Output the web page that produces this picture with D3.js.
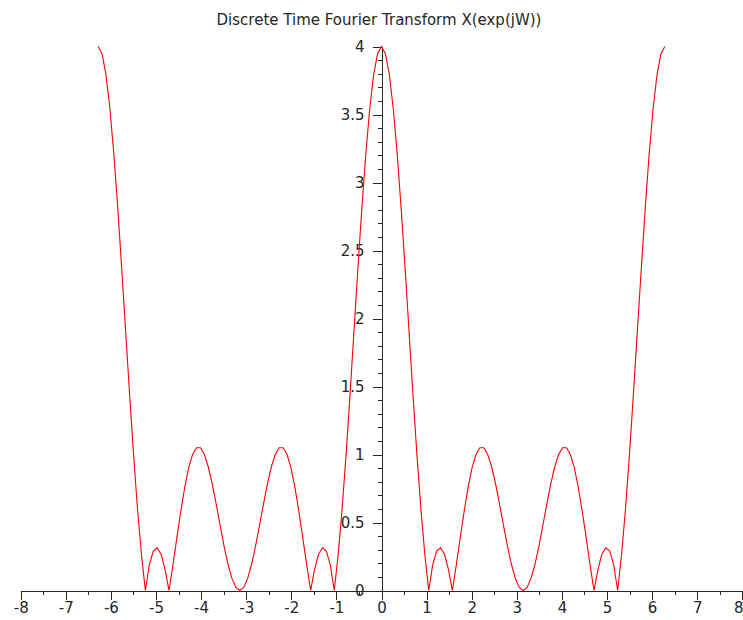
<!DOCTYPE html>
<html>
<head>
<meta charset="utf-8">
<script src="https://cdn.jsdelivr.net/npm/d3@7"></script>
<style>
  html, body { margin: 0; padding: 0; background: #ffffff; }
  svg { display: block; }
</style>
</head>
<body>
<svg id="chart" width="743" height="620"></svg>
<script>
// ---- data ----
const titleText = "Discrete Time Fourier Transform X(exp(jW))";

const omega = [
  -6.283, -6.196, -6.109, -6.021, -5.934, -5.847, -5.760, -5.672, -5.585, -5.498,
  -5.411, -5.323, -5.236, -5.149, -5.061, -4.974, -4.887, -4.800, -4.712, -4.625,
  -4.538, -4.451, -4.363, -4.276, -4.189, -4.102, -4.014, -3.927, -3.840, -3.752,
  -3.665, -3.578, -3.491, -3.403, -3.316, -3.229, -3.142, -3.054, -2.967, -2.880,
  -2.793, -2.705, -2.618, -2.531, -2.443, -2.356, -2.269, -2.182, -2.094, -2.007,
  -1.920, -1.833, -1.745, -1.658, -1.571, -1.484, -1.396, -1.309, -1.222, -1.134,
  -1.047, -0.960, -0.873, -0.785, -0.698, -0.611, -0.524, -0.436, -0.349, -0.262,
  -0.175, -0.087,
  0,
  0.087, 0.175, 0.262, 0.349, 0.436, 0.524, 0.611, 0.698, 0.785, 0.873,
  0.960, 1.047, 1.134, 1.222, 1.309, 1.396, 1.484, 1.571, 1.658, 1.745,
  1.833, 1.920, 2.007, 2.094, 2.182, 2.269, 2.356, 2.443, 2.531, 2.618,
  2.705, 2.793, 2.880, 2.967, 3.054, 3.142, 3.229, 3.316, 3.403, 3.491,
  3.578, 3.665, 3.752, 3.840, 3.927, 4.014, 4.102, 4.189, 4.276, 4.363,
  4.451, 4.538, 4.625, 4.712, 4.800, 4.887, 4.974, 5.061, 5.149, 5.236,
  5.323, 5.411, 5.498, 5.585, 5.672, 5.760, 5.847, 5.934, 6.021, 6.109,
  6.196, 6.283
];

const magnitude = [
  // -2pi .. -pi
  4, 3.947, 3.791, 3.539, 3.206, 2.808, 2.366, 1.902, 1.440, 1.000,
  0.603, 0.266, 0, 0.186, 0.290, 0.314, 0.266, 0.156, 0, 0.187,
  0.387, 0.582, 0.758, 0.901, 1.000, 1.050, 1.050, 1.000, 0.908, 0.782,
  0.634, 0.478, 0.326, 0.193, 0.089, 0.023, 0,
  // -pi .. 0
  0.023, 0.089, 0.193, 0.326, 0.478, 0.634, 0.782, 0.908, 1.000, 1.050,
  1.050, 1.000, 0.901, 0.758, 0.582, 0.387, 0.187, 0, 0.156, 0.266,
  0.314, 0.290, 0.186, 0, 0.266, 0.603, 1.000, 1.440, 1.902, 2.366,
  2.808, 3.206, 3.539, 3.791, 3.947, 4,
  // 0 .. pi
  3.947, 3.791, 3.539, 3.206, 2.808, 2.366, 1.902, 1.440, 1.000,
  0.603, 0.266, 0, 0.186, 0.290, 0.314, 0.266, 0.156, 0, 0.187,
  0.387, 0.582, 0.758, 0.901, 1.000, 1.050, 1.050, 1.000, 0.908, 0.782,
  0.634, 0.478, 0.326, 0.193, 0.089, 0.023, 0,
  // pi .. 2pi
  0.023, 0.089, 0.193, 0.326, 0.478, 0.634, 0.782, 0.908, 1.000, 1.050,
  1.050, 1.000, 0.901, 0.758, 0.582, 0.387, 0.187, 0, 0.156, 0.266,
  0.314, 0.290, 0.186, 0, 0.266, 0.603, 1.000, 1.440, 1.902, 2.366,
  2.808, 3.206, 3.539, 3.791, 3.947, 4
];

const xTickValues = [-8, -7, -6, -5, -4, -3, -2, -1, 0, 1, 2, 3, 4, 5, 6, 7, 8];
const xTickLabels = ["-8", "-7", "-6", "-5", "-4", "-3", "-2", "-1", "0", "1", "2", "3", "4", "5", "6", "7", "8"];
const yTickValues = [0, 0.5, 1, 1.5, 2, 2.5, 3, 3.5, 4];
const yTickLabels = ["0", "0.5", "1", "1.5", "2", "2.5", "3", "3.5", "4"];
const xDomain = [-8, 8];
const yDomain = [0, 4];

// ---- drawing ----
const svg = d3.select("#chart");
const x = d3.scaleLinear().domain(xDomain).range([20.7, 742.3]);
const y = d3.scaleLinear().domain(yDomain).range([590.5, 46.5]);
const font = "'DejaVu Sans', Verdana, sans-serif";
const ink = "#262626";

// title
svg.append("text")
  .attr("x", 379)
  .attr("y", 25)
  .attr("text-anchor", "middle")
  .attr("font-family", font)
  .attr("font-size", 15)
  .attr("fill", ink)
  .text(titleText);

// x axis (ticks downward)
const xMinor = d3.range(0, 33).map(i => xDomain[0] + i * 0.5).filter(v => !Number.isInteger(v));
const xAxisMinor = d3.axisBottom(x).tickValues(xMinor).tickSize(4).tickFormat("");
svg.append("g").attr("transform", `translate(0,${y(0)})`).call(xAxisMinor)
  .call(g => g.select(".domain").remove())
  .call(g => g.selectAll("line").attr("stroke", ink).attr("shape-rendering", "crispEdges"));

const xAxis = d3.axisBottom(x)
  .tickValues(xTickValues)
  .tickSize(9)
  .tickSizeOuter(0)
  .tickPadding(3)
  .tickFormat((d, i) => xTickLabels[i]);
svg.append("g").attr("transform", `translate(0,${y(0)})`).call(xAxis)
  .call(g => g.select(".domain").attr("stroke", ink).attr("shape-rendering", "crispEdges"))
  .call(g => g.selectAll("line").attr("stroke", ink).attr("shape-rendering", "crispEdges"))
  .call(g => g.selectAll("text").attr("font-family", font).attr("font-size", 15).attr("fill", ink))
  .call(g => g.selectAll("text").filter(d => d === xDomain[1])
    .attr("text-anchor", "end").attr("dx", "0.05em"));

// y axis (ticks to the left, at x = 0)
const yMinor = d3.range(0, 41).map(i => i / 10).filter(v => Math.abs(v * 2 - Math.round(v * 2)) > 1e-6);
const yAxisMinor = d3.axisLeft(y).tickValues(yMinor).tickSize(4).tickFormat("");
svg.append("g").attr("transform", `translate(${x(0)},0)`).call(yAxisMinor)
  .call(g => g.select(".domain").remove())
  .call(g => g.selectAll("line").attr("stroke", ink).attr("shape-rendering", "crispEdges"));

const yAxis = d3.axisLeft(y)
  .tickValues(yTickValues)
  .tickSize(9)
  .tickSizeOuter(0)
  .tickPadding(8)
  .tickFormat((d, i) => yTickLabels[i]);
svg.append("g").attr("transform", `translate(${x(0)},0)`).call(yAxis)
  .call(g => g.select(".domain").attr("stroke", ink).attr("shape-rendering", "crispEdges"))
  .call(g => g.selectAll("line").attr("stroke", ink).attr("shape-rendering", "crispEdges"))
  .call(g => g.selectAll("text").attr("font-family", font).attr("font-size", 15).attr("fill", ink));

// curve
const pts = omega.map((w, i) => [w, magnitude[i]]);
const line = d3.line().x(d => x(d[0])).y(d => y(d[1])).curve(d3.curveLinear);
svg.append("path")
  .datum(pts)
  .attr("d", line)
  .attr("fill", "none")
  .attr("stroke", "#ff0000")
  .attr("stroke-width", 1.1);
</script>
</body>
</html>
